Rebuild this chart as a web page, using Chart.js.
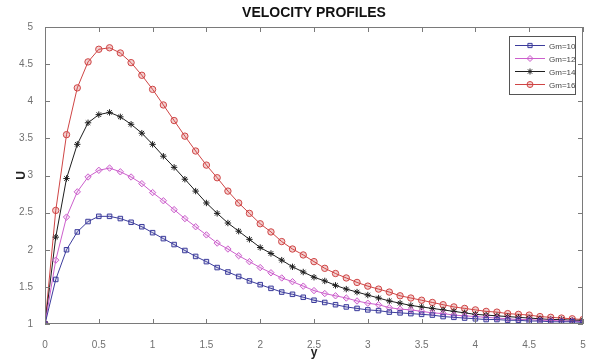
<!DOCTYPE html>
<html lang="en">
<head>
  <meta charset="UTF-8">
  <title>Velocity Profiles</title>
  <script src="https://cdn.jsdelivr.net/npm/chart.js"></script>
  <style>
    html, body { margin: 0; padding: 0; background: #fff; }
    #wrap { width: 594px; height: 364px; }
  </style>
</head>
<body>
  <div id="wrap"><canvas id="velocityChart" width="594" height="364"></canvas></div>

  <script>
    // y positions (x axis) and U values for each Gm
    const yPos = [0, 0.1, 0.2, 0.3, 0.4, 0.5, 0.6, 0.7, 0.8, 0.9, 1.0,
      1.1, 1.2, 1.3, 1.4, 1.5, 1.6, 1.7, 1.8, 1.9, 2.0,
      2.1, 2.2, 2.3, 2.4, 2.5, 2.6, 2.7, 2.8, 2.9, 3.0,
      3.1, 3.2, 3.3, 3.4, 3.5, 3.6, 3.7, 3.8, 3.9, 4.0,
      4.1, 4.2, 4.3, 4.4, 4.5, 4.6, 4.7, 4.8, 4.9, 5.0];

    const gm10 = [1.00, 1.60, 2.00, 2.24, 2.38, 2.45, 2.45, 2.42, 2.37, 2.31, 2.23,
      2.15, 2.07, 1.99, 1.91, 1.84, 1.76, 1.70, 1.64, 1.58, 1.53,
      1.48, 1.43, 1.40, 1.36, 1.32, 1.29, 1.26, 1.23, 1.21, 1.19,
      1.18, 1.16, 1.15, 1.14, 1.13, 1.12, 1.10, 1.09, 1.08, 1.07,
      1.06, 1.06, 1.05, 1.05, 1.04, 1.04, 1.03, 1.03, 1.03, 1.02];

    const gm12 = [1.00, 1.86, 2.44, 2.78, 2.98, 3.07, 3.10, 3.05, 2.98, 2.89, 2.77,
      2.66, 2.54, 2.42, 2.31, 2.20, 2.09, 2.01, 1.92, 1.84, 1.76,
      1.69, 1.62, 1.57, 1.51, 1.45, 1.41, 1.38, 1.35, 1.31, 1.28,
      1.26, 1.22, 1.20, 1.19, 1.17, 1.15, 1.14, 1.12, 1.11, 1.10,
      1.09, 1.08, 1.07, 1.06, 1.06, 1.05, 1.05, 1.04, 1.04, 1.03];

    const gm14 = [1.00, 2.17, 2.96, 3.42, 3.71, 3.82, 3.85, 3.79, 3.69, 3.57, 3.42,
      3.26, 3.11, 2.95, 2.79, 2.63, 2.49, 2.36, 2.25, 2.14, 2.03,
      1.95, 1.86, 1.77, 1.70, 1.63, 1.58, 1.52, 1.47, 1.43, 1.39,
      1.35, 1.31, 1.28, 1.25, 1.23, 1.21, 1.19, 1.17, 1.15, 1.13,
      1.12, 1.11, 1.10, 1.09, 1.08, 1.07, 1.06, 1.06, 1.05, 1.05];

    const gm16 = [1.00, 2.53, 3.55, 4.18, 4.53, 4.70, 4.72, 4.65, 4.52, 4.35, 4.16,
      3.95, 3.74, 3.53, 3.33, 3.14, 2.97, 2.79, 2.63, 2.49, 2.35,
      2.24, 2.11, 2.01, 1.93, 1.84, 1.75, 1.68, 1.62, 1.56, 1.51,
      1.47, 1.43, 1.38, 1.35, 1.32, 1.29, 1.26, 1.23, 1.21, 1.19,
      1.17, 1.16, 1.14, 1.13, 1.12, 1.10, 1.09, 1.08, 1.07, 1.06];

    const seriesLabels = ['Gm=10', 'Gm=12', 'Gm=14', 'Gm=16'];

    const toPoints = (vals) => vals.map((v, i) => ({ x: yPos[i], y: v }));

    const makeSet = (label, vals, color, fill, style) => ({
      label: label,
      data: toPoints(vals),
      borderColor: color,
      backgroundColor: fill,
      borderWidth: 1,
      pointStyle: style,
      pointRadius: 3.2,
      pointBorderColor: color,
      pointBackgroundColor: fill,
      pointBorderWidth: 1,
      tension: 0
    });

    const axisGray = '#7a7a7a';

    // MATLAB-like box, inward ticks, title and legend
    const matlabFrame = {
      id: 'matlabFrame',
      afterDraw(chart) {
        const ctx = chart.ctx;
        const a = chart.chartArea;
        const xs = chart.scales.x;
        const ys = chart.scales.y;
        ctx.save();
        ctx.strokeStyle = axisGray;
        ctx.lineWidth = 1;
        ctx.strokeRect(a.left + 0.5, a.top + 0.5, a.right - a.left - 1, a.bottom - a.top - 1);
        ctx.beginPath();
        xs.ticks.forEach(t => {
          const px = Math.round(xs.getPixelForValue(t.value)) + 0.5;
          ctx.moveTo(px, a.bottom); ctx.lineTo(px, a.bottom - 5);
          ctx.moveTo(px, a.top); ctx.lineTo(px, a.top + 5);
        });
        ys.ticks.forEach(t => {
          const py = Math.round(ys.getPixelForValue(t.value)) + 0.5;
          ctx.moveTo(a.left, py); ctx.lineTo(a.left + 5, py);
          ctx.moveTo(a.right, py); ctx.lineTo(a.right - 5, py);
        });
        ctx.stroke();

        // title centred over the plot area
        ctx.fillStyle = '#111';
        ctx.font = 'bold 14px "Liberation Sans", Arial, sans-serif';
        ctx.textAlign = 'center';
        ctx.textBaseline = 'middle';
        ctx.fillText('VELOCITY PROFILES', (a.left + a.right) / 2, 13);

        // legend box
        const lx = 509, ly = 36, lw = 66, lh = 58;
        ctx.fillStyle = '#fff';
        ctx.fillRect(lx, ly, lw, lh);
        ctx.strokeStyle = '#555';
        ctx.strokeRect(lx + 0.5, ly + 0.5, lw, lh);
        ctx.font = '8px "Liberation Sans Narrow", "Liberation Sans", Arial, sans-serif';
        ctx.textAlign = 'left';
        chart.data.datasets.forEach((ds, i) => {
          const cy = ly + 9.5 + i * 13;
          ctx.strokeStyle = ds.borderColor;
          ctx.lineWidth = 1;
          ctx.beginPath();
          ctx.moveTo(lx + 6, cy); ctx.lineTo(lx + 36, cy);
          ctx.stroke();
          ctx.fillStyle = ds.pointBackgroundColor;
          Chart.helpers.drawPoint(ctx, {
            pointStyle: ds.pointStyle, radius: 3, rotation: 0, borderWidth: 1
          }, lx + 21, cy);
          ctx.fillStyle = '#444';
          ctx.fillText(ds.label, lx + 40, cy + 1);
        });
        ctx.restore();
      }
    };

    const ctx = document.getElementById('velocityChart').getContext('2d');
    new Chart(ctx, {
      type: 'line',
      data: {
        datasets: [
          makeSet(seriesLabels[0], gm10, '#3c3c9c', 'rgba(60,60,156,0.15)', 'rect'),
          makeSet(seriesLabels[1], gm12, '#cc5fcc', 'rgba(204,95,204,0.15)', 'rectRot'),
          makeSet(seriesLabels[2], gm14, '#1e1e1e', 'rgba(30,30,30,0.3)', 'star'),
          makeSet(seriesLabels[3], gm16, '#cf4545', 'rgba(207,69,69,0.25)', 'circle')
        ]
      },
      options: {
        responsive: false,
        animation: false,
        layout: { padding: { top: 27, right: 11, left: 0, bottom: 0 } },
        plugins: {
          legend: { display: false },
          title: { display: false },
          tooltip: { enabled: false }
        },
        scales: {
          x: {
            type: 'linear',
            min: 0,
            max: 5,
            afterFit: (s) => { s.height = 40; },
            border: { display: false },
            grid: { display: false },
            ticks: {
              stepSize: 0.5,
              padding: 7,
              color: '#707070',
              font: { size: 10, family: '"Liberation Sans", Arial, sans-serif' },
              callback: (v) => String(v)
            },
            title: {
              display: true,
              text: 'y',
              color: '#222',
              padding: { top: 0, bottom: 4 },
              font: { size: 12, weight: 'bold', family: '"Liberation Sans", Arial, sans-serif' }
            }
          },
          y: {
            min: 1,
            max: 5,
            afterFit: (s) => { s.width = 45; },
            border: { display: false },
            grid: { display: false },
            ticks: {
              stepSize: 0.5,
              padding: 4,
              color: '#707070',
              font: { size: 10, family: '"Liberation Sans", Arial, sans-serif' },
              callback: (v) => String(v)
            },
            title: {
              display: true,
              text: 'U',
              color: '#222',
              padding: { top: 14, bottom: 0 },
              font: { size: 12, weight: 'bold', family: '"Liberation Sans", Arial, sans-serif' }
            }
          }
        }
      },
      plugins: [matlabFrame]
    });
  </script>
</body>
</html>
